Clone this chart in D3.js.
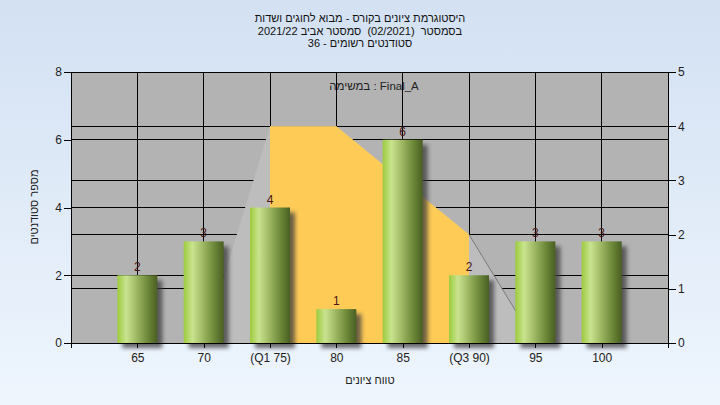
<!DOCTYPE html>
<html><head><meta charset="utf-8">
<script src="https://cdn.jsdelivr.net/npm/d3@7"></script>
<style>
html,body{margin:0;padding:0;}
svg{display:block;}
text{font-family:"Liberation Sans",Arial,sans-serif;}
.pre{white-space:pre;}
</style></head>
<body>
<svg id="c" width="720" height="405"></svg>
<script>
const titleLines = [
  "היסטוגרמת ציונים בקורס - מבוא לחוגים ושדות",
  "בסמסטר  (02/2021)  סמסטר אביב 2021/22",
  "סטודנטים רשומים - 36"
];
const categories = ["65","70","(Q1 75)","80","85","(Q3 90)","95","100"];
const counts = [2,3,4,1,6,2,3,3];
const areaValues = [null,0,4,4,3,2,0,null];   // right axis
const q1Index = 2, q3Index = 5;
const leftTicks = [0,2,4,6,8];
const rightTicks = [0,1,2,3,4,5];
const legendText = "Final_A : במשימה";
const yTitle = "מספר סטודנטים";
const xTitle = "טווח ציונים";

const W=720,H=405;
const L=71,R=668,T=72,B=343;
const svg=d3.select("#c");
const defs=svg.append("defs");
const bg=defs.append("linearGradient").attr("id","bg").attr("x1",0).attr("y1",0).attr("x2",0).attr("y2",1);
bg.append("stop").attr("offset","0%").attr("stop-color","#d3e1f3");
bg.append("stop").attr("offset","100%").attr("stop-color","#eef5fd");
const bar=defs.append("linearGradient").attr("id","bar").attr("x1",0).attr("y1",0).attr("x2",1).attr("y2",0);
[["0%","#9ccb3e"],["22%","#c9e38f"],["45%","#a3bd68"],["75%","#6f8a3a"],["100%","#495f22"]].forEach(s=>bar.append("stop").attr("offset",s[0]).attr("stop-color",s[1]));
const f=defs.append("filter").attr("id","sh").attr("x","-30%").attr("y","-30%").attr("width","160%").attr("height","160%");
f.append("feGaussianBlur").attr("stdDeviation",2);

svg.append("rect").attr("width",W).attr("height",H).attr("fill","url(#bg)");

function rtlText(parent, str, x, y, size, fill){
  return parent.append("text").attr("class","pre").attr("direction","rtl")
    .attr("x",x).attr("y",y).attr("text-anchor","middle")
    .attr("font-size",size).attr("fill",fill).text(str);
}

titleLines.forEach((s,i)=>rtlText(svg,s,360,22+i*12.5,11,"#111"));

const x=d3.scaleLinear().domain([-1,categories.length]).range([L,R]);
const yL=d3.scaleLinear().domain([0,8]).range([B,T]);
const yR=d3.scaleLinear().domain([0,5]).range([B,T]);

svg.append("rect").attr("x",L).attr("y",T).attr("width",R-L).attr("height",B-T).attr("fill","#b3b3b3");

// gridlines
const g=svg.append("g").attr("stroke","#000").attr("stroke-width",1).attr("shape-rendering","crispEdges");
leftTicks.forEach(v=>g.append("line").attr("x1",L).attr("x2",R).attr("y1",yL(v)).attr("y2",yL(v)));
rightTicks.forEach(v=>g.append("line").attr("x1",L).attr("x2",R).attr("y1",yR(v)).attr("y2",yR(v)));
categories.forEach((c,i)=>g.append("line").attr("x1",x(i)).attr("x2",x(i)).attr("y1",T).attr("y2",B));

// area
const pts=areaValues.map((v,i)=>({i,v})).filter(d=>d.v!==null);
const area=d3.area().x(d=>x(d.i)).y0(yR(0)).y1(d=>yR(d.v));
svg.append("path").attr("d",area(pts)).attr("fill","#bdbdbd");
svg.append("path").attr("d",area(pts.filter(d=>d.i>=q1Index&&d.i<=q3Index))).attr("fill","#fecb57");
svg.append("path").attr("d",d3.line().x(d=>x(d.i)).y(d=>yR(d.v))(pts.filter(d=>d.i>=q3Index)))
  .attr("fill","none").attr("stroke","#7a7a7a").attr("stroke-width",1);

// bars
const bw=40;
const bars=svg.append("g");
bars.selectAll("rect.s").data(counts).join("rect").attr("class","s")
  .attr("x",(d,i)=>x(i)-bw/2+5).attr("y",d=>yL(d)+5).attr("width",bw).attr("height",d=>B-yL(d))
  .attr("fill","#3a3a3a").attr("opacity",0.75).attr("filter","url(#sh)");
bars.selectAll("rect.b").data(counts).join("rect").attr("class","b")
  .attr("x",(d,i)=>x(i)-bw/2).attr("y",d=>yL(d)).attr("width",bw).attr("height",d=>B-yL(d))
  .attr("fill","url(#bar)");
bars.selectAll("text").data(counts).join("text")
  .attr("x",(d,i)=>x(i)).attr("y",d=>yL(d)-4).attr("text-anchor","middle")
  .attr("font-size",12).attr("fill","#4a1414").text(d=>d);

// border
svg.append("rect").attr("x",L).attr("y",T).attr("width",R-L).attr("height",B-T)
  .attr("fill","none").attr("stroke","#000").attr("shape-rendering","crispEdges");

// axes
function style(a){a.select(".domain").remove();a.selectAll("line").attr("stroke","#000").attr("shape-rendering","crispEdges");a.selectAll("text").attr("font-size",12).attr("fill","#222").attr("font-family","Liberation Sans, Arial, sans-serif");}
svg.append("g").attr("transform",`translate(${L},0)`).call(d3.axisLeft(yL).tickValues(leftTicks).tickFormat(d3.format("d")).tickSize(7).tickPadding(2)).call(style);
svg.append("g").attr("transform",`translate(${R},0)`).call(d3.axisRight(yR).tickValues(rightTicks).tickFormat(d3.format("d")).tickSize(8).tickPadding(2)).call(style);
svg.append("g").attr("transform",`translate(0,${B})`).call(d3.axisBottom(x).tickValues(d3.range(categories.length)).tickFormat(i=>categories[i]).tickSize(5).tickPadding(5)).call(style);
svg.append("line").attr("x1",R).attr("x2",R).attr("y1",B).attr("y2",B+5).attr("stroke","#000").attr("shape-rendering","crispEdges");
svg.append("line").attr("x1",L).attr("x2",L).attr("y1",B).attr("y2",B+5).attr("stroke","#000").attr("shape-rendering","crispEdges");

// legend text
rtlText(svg,legendText,374,90,11.5,"#222");

// axis titles
rtlText(svg,yTitle,0,0,11,"#222").attr("x",null).attr("y",null).attr("transform","translate(38,207) rotate(-90)");
rtlText(svg,xTitle,370,384,11,"#222");
</script>
</body></html>
